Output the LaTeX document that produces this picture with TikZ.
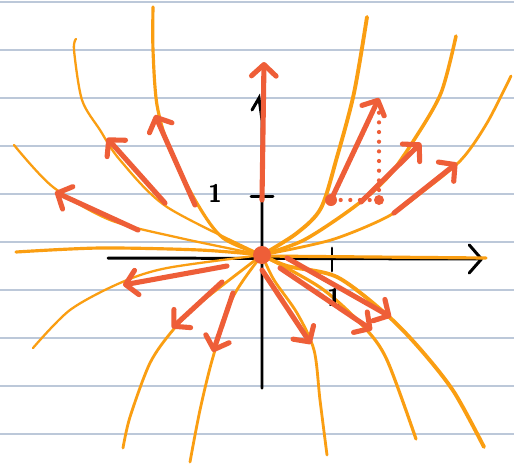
\documentclass[tikz,border=0pt]{standalone}
\usepackage{tikz}
\usetikzlibrary{arrows.meta}
\definecolor{paperline}{RGB}{188,200,217}
\definecolor{fieldorange}{RGB}{250,158,18}
\definecolor{vecred}{RGB}{238,94,56}

\begin{document}
\begin{tikzpicture}[x=0.02cm,y=-0.02cm,
    rule/.style={paperline, line width=1.1pt},
    axis/.style={black, line width=1.7pt, line cap=round},
    flow/.style={fieldorange, line width=1.3pt, line cap=round},
    vec/.style={vecred, line width=2.9pt, line cap=round, -{Straight Barb[length=6.5pt,width=14pt,round]}},
    dots/.style={vecred, line width=2.4pt, line cap=round, dash pattern=on 0pt off 5.5pt}]
        \useasboundingbox[fill=white] (0,0) rectangle (514,464);
        \foreach \k in {0,...,9}
            \draw[rule] (0,2+48*\k) -- (514,2+48*\k);

        \coordinate (O) at (262,255);
        \coordinate (xend) at (483,259);
        \coordinate (yend) at (259,98);
        \draw[axis, -{Straight Barb[length=7pt,width=16pt,round]}] (108,258) -- (xend);
        \draw[axis] (262,388) -- (262,120) -- (yend) -- (252,110);
        \draw[axis] (332,248) -- (332,271);
        \draw[axis] (251,196) -- (273,196);

        \draw[flow, line width=1.8pt] plot[smooth] coordinates {(262,255) (223,238) (198,205) (170,150) (157,105) (153,50) (153,7)};
        \draw[flow] plot[smooth] coordinates {(262,255) (167,207) (120,160) (100,130) (82,100) (74,50) (76,39)};
        \draw[flow] plot[smooth] coordinates {(262,255) (180,238) (110,220) (53,187) (14,145)};
        \draw[flow, line width=1.8pt] plot[smooth] coordinates {(262,255) (200,250) (100,248) (16,252)};
        \draw[flow] plot[smooth] coordinates {(262,255) (167,268) (120,283) (70,310) (33,348)};
        \draw[flow, line width=1.6pt] plot[smooth] coordinates {(262,255) (200,303) (173,330) (150,363) (130,417) (123,448)};
        \draw[flow, line width=1.6pt] plot[smooth] coordinates {(262,255) (233,297) (213,357) (200,410) (190,462)};
        \draw[flow, line width=1.6pt] plot[smooth] coordinates {(262,255) (274,280) (297,313) (314,350) (320,400) (327,455)};
        \draw[flow, line width=1.8pt] plot[smooth] coordinates {(262,255) (321,288) (364,327) (387,360) (416,439)};
        \draw[flow, line width=2.2pt] plot[smooth] coordinates {(262,255) (287,266) (337,277) (387,315) (421,350) (454,392) (484,447)};
        \draw[flow, line width=1.8pt] (262,256) -- (486,258);
        \draw[flow, line width=2.2pt] plot[smooth] coordinates {(262,255) (297,233) (321,208) (337,157) (354,93) (367,17)};
        \draw[flow, line width=2pt] plot[smooth] coordinates {(262,255) (304,240) (354,207) (387,178) (414,140) (441,93) (456,36)};
        \draw[flow, line width=1.6pt] plot[smooth] coordinates {(262,255) (331,240) (387,217) (421,193) (461,160) (487,123) (511,76)};

        \node[font=\sffamily\bfseries\Large] (xone) at (334,297) {1};
        \node[font=\sffamily\bfseries\Large] (yone) at (215,193) {1};

        % vectors
        \draw[vec] (262,200) -- (264,62);
        \draw[vec] (195,205) -- (155,115);
        \draw[vec] (165,203) -- (107,138);
        \draw[vec] (138,230) -- (55,192);
        \draw[vec] (227,266) -- (123,285);
        \draw[vec] (222,282) -- (172,328);
        \draw[vec] (233,293) -- (213,352);
        \draw[vec] (262,270) -- (311,344);
        \draw[vec] (280,268) -- (372,330);
        \draw[vec] (287,258) -- (391,317);
        \draw[vec] (331,200) -- (379,98);
        \draw[vec] (361,202) -- (421,143);
        \draw[vec] (394,213) -- (457,163);

        \coordinate (base) at (331,200);
        \coordinate (corner) at (379,200);
        \draw[dots] (base) -- (corner) -- (379,102);
        \fill[vecred] (base) circle (6);
        \fill[vecred] (corner) circle (5);
        \fill[vecred] (O) circle (9);
\end{tikzpicture}
\end{document}
